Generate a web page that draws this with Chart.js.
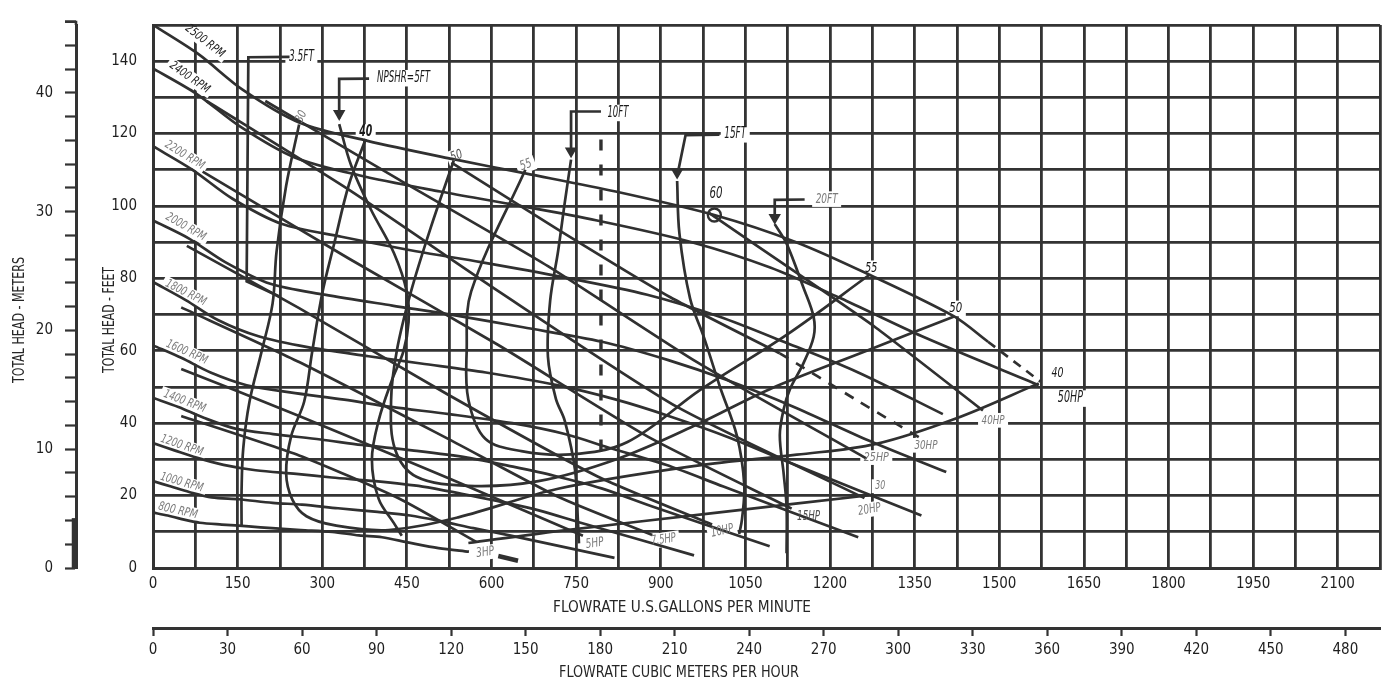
<!DOCTYPE html>
<html><head><meta charset="utf-8"><title>Pump performance curves</title>
<script src="https://cdn.jsdelivr.net/npm/chart.js@4.4.1/dist/chart.umd.min.js"></script>
<style>html,body{margin:0;padding:0;background:#fff;overflow:hidden}canvas{display:block}</style>
</head><body>
<canvas id="chart" width="1389" height="685"></canvas>
<script>
// ---------- tick labels ----------
const GPM_TICKS = [0,150,300,450,600,750,900,1050,1200,1350,1500,1650,1800,1950,2100];
const M3H_TICKS = [0,30,60,90,120,150,180,210,240,270,300,330,360,390,420,450,480];
const FEET_TICKS = [0,20,40,60,80,100,120,140];
const METER_TICKS = [0,10,20,30,40];

// ---------- speed curves  [US GPM, head ft] ----------
const RPM_2500 = [[0,150],[80,142],[160,132],[260,123],[380,118],[530,113],[660,109],[820,104],[995,97.5],[1140,90],[1270,81],[1420,69.5],[1480,62.5]];
const RPM_2500_TAIL = [[1480,62.5],[1573,51.5]];
const RPM_2400 = [[0,138],[77,131],[154,122],[250,113.5],[365,108.5],[509,104],[634,100.5],[787,96],[955,90],[1094,83],[1219,74.5],[1363,64],[1570,50.5]];
const RPM_2200 = [[0,116.5],[70,110],[141,102],[229,95],[334,91.5],[466,87.5],[581,84.5],[722,80.5],[876,75.5],[1003,69.5],[1118,62.5],[1250,54],[1400,42.5]];
const RPM_2000 = [[0,96],[64,91],[128,84.5],[208,78.5],[304,75.5],[424,72.5],[528,70],[656,66.5],[796,62.5],[912,57.5],[1016,52],[1136,44.5],[1264,35.5],[1406,26.5]];
const RPM_1800 = [[0,79],[58,74],[115,68.5],[187,64],[274,61],[382,58.5],[475,56.5],[590,54],[716,50.5],[821,46.5],[914,42],[1022,36],[1138,28.5],[1362,14.5]];
const RPM_1600 = [[0,61.5],[51,58],[102,54],[166,50.5],[243,48.5],[339,46.5],[422,44.5],[525,42.5],[637,40],[730,37],[813,33],[909,28.5],[1011,22.5],[1250,8.5]];
const RPM_1400 = [[0,47],[45,44.5],[90,41.5],[146,38.5],[213,37],[297,35.5],[370,34],[459,32.5],[557,30.5],[638,28],[711,25.5],[795,22],[885,17],[1093,6]];
const RPM_1200 = [[0,34.5],[38,32.5],[77,30.5],[125,28.5],[182,27],[254,26],[317,25],[394,24],[478,22.5],[547,20.5],[610,18.5],[682,16],[758,12.5],[959,3.5]];
const RPM_1000 = [[0,24],[32,22.5],[64,21],[104,19.5],[152,19],[212,18],[264,17.5],[328,16.5],[398,15.5],[456,14.5],[508,13],[568,11],[632,9],[818,2.8]];
const RPM_800  = [[0,15.3],[26,14.5],[51,13.5],[83,12.5],[122,12],[170,11.5],[211,11],[262,10.5],[318,10],[365,9],[406,8.5],[454,7],[506,5.5],[560,4.5]];

// ---------- horsepower lines ----------
const HP_40 = [[986,98],[1141,81.5],[1282,66.3],[1471,43.5]];
const HP_30 = [[529,112],[718,93.5],[917,74.8],[1111,59.3]];
const HP_30_TAIL = [[1111,59.3],[1247,46.4],[1362,35.7]];
const HP_25 = [[199,129],[436,107.3],[700,83.4],[965,56.8],[1265,30.2]];
const HP_20 = [[95,129],[347,104.5],[612,76.5],[929,44.5],[1261,19.3]];
const HP_15 = [[88,109.5],[347,85.5],[612,61.6],[877,36.3],[1132,16.4]];
const HP_10 = [[60,89],[259,71.8],[524,47.8],[788,25.3],[991,12]];
const HP_7_5 = [[50,72],[259,56.9],[524,35.6],[718,19.7],[885,9.1]];
const HP_5 = [[50,55],[259,42],[524,24.8],[762,8.9]];
const HP_3 = [[50,42],[259,31.1],[436,19.2],[573,7.2]];
const HP_3_TAIL = [[612,3.3],[647,2]];

// ---------- efficiency contours (%) ----------
const EFF_30 = [[259,122.5],[236,105.6],[219,87.4],[212,73.1],[192,59.5],[171,45.9],[160,33.1],[157,21.4],[157,11.4]];
const EFF_30_RIGHT = [[559,6.9],[718,10.2],[1000,15.3],[1270,20.1]];
const EFF_40 = [[377,118.5],[347,105.8],[321,89.5],[300,75.9],[282,59.6],[268,46],[245,36.5],[236,26.2],[247,18.9],[272,14.3],[325,11.7],[418,10.5],[541,14],[718,21.9],[965,28.3],[1141,31.3],[1282,34.3],[1423,41.3],[1570,51]];
const EFF_50 = [[533,112.5],[492,93.9],[457,76.2],[432,59.9],[422,46.3],[429,32.8],[467,25.2],[559,22.7],[683,24],[824,30.2],[965,39.7],[1093,49.4],[1265,60],[1420,69.5]];
const EFF_55 = [[660,110],[564,76.4],[556,60.1],[559,46.5],[589,35.7],[653,32.3],[741,31.4],[841,34.8],[970,49.2],[1123,64.4],[1270,81]];
const EFF_60 = [[995,97.5]];

// ---------- NPSHR curves (ft) ----------
const NPSH_3_5_LEADER = [[242,141.2],[169,141.1],[166,79.2],[224,75]];
const NPSH_5_LEADER = [[383,135.2],[330,135.1],[330,124.2]];
const NPSH_5 = [[330,122.6],[351,111.3],[386,99.1],[427,87],[450,76.2],[453,68],[444,59.9],[423,51.7],[400,40.8],[388,30],[400,19.1],[427,12.4],[441,8.9]];
const NPSH_10_LEADER = [[794,126.1],[741,126.1],[741,114.1]];
const NPSH_10 = [[741,112.8],[730,101.1],[718,87.5],[704,73.9],[700,58.4],[714,46.8],[730,40.6],[748,27.1],[753,13.5],[755,6.8]];
const NPSH_15_LEADER = [[1004,119.7],[944,119.6],[929,108.2]];
const NPSH_15 = [[929,106.9],[933,92.5],[952,74.4],[977,63.5],[1005,50],[1035,36.5],[1048,23],[1044,13.5],[1039,9.4]];
const NPSH_20_LEADER = [[1155,101.8],[1102,101.7],[1102,95.8]];
const NPSH_20 = [[1102,95],[1123,89.6],[1153,77.4],[1171,69.3],[1171,63.9],[1153,56.6],[1129,49.4],[1118,44],[1111,36.7],[1118,25.8],[1123,16.9],[1123,4.1]];
const NPSH_ARROWS = [[330,125.5],[741,115.2],[929,109.3],[1102,96.8]];
const LIMIT_LINE = [[794,118.4],[794,30.7]];

// ---------- styling / layout ----------
const FONT = "'Liberation Sans Narrow','DejaVu Sans Condensed','Roboto Condensed','Arial Narrow',sans-serif";
const INK = '#303030', GRID = '#333333', DARK = '#1a1a1a', GRAY = '#7a7a7a', MID = '#505050';
const GPM_PER_M3H = 4.402868;
const X_MAX = 2175, Y_MAX = 150, M_MAX = 150 * 0.3048;

function pts(a){ return a.map(p => ({x:p[0], y:p[1]})); }
function line(a, o){ return Object.assign({data:pts(a), showLine:true, borderColor:INK, borderWidth:2.7, pointRadius:0, pointHoverRadius:0, tension:0.3, fill:false}, o||{}); }

const datasets = [
  line(RPM_2500), line(RPM_2500_TAIL,{borderDash:[9,7],tension:0}),
  line(RPM_2400), line(RPM_2200), line(RPM_2000), line(RPM_1800), line(RPM_1600),
  line(RPM_1400), line(RPM_1200), line(RPM_1000), line(RPM_800),
  line(HP_40,{tension:0.2}), line(HP_30,{tension:0.2}), line(HP_30_TAIL,{borderDash:[10,9],tension:0.2}),
  line(HP_25,{tension:0.2}), line(HP_20,{tension:0.2}), line(HP_15,{tension:0.2}), line(HP_10,{tension:0.2}),
  line(HP_7_5,{tension:0.2}), line(HP_5,{tension:0.2}), line(HP_3,{tension:0.2}), line(HP_3_TAIL,{borderWidth:4.5,tension:0}),
  line(EFF_30,{tension:0.35}), line(EFF_30_RIGHT,{tension:0.3}), line(EFF_40,{tension:0.35}),
  line(EFF_50,{tension:0.35}), line(EFF_55,{tension:0.35}),
  line(EFF_60,{showLine:false, pointRadius:6.5, pointStyle:'circle', pointBorderWidth:2.4, pointBorderColor:INK, pointBackgroundColor:'rgba(255,255,255,0)'}),
  line(NPSH_3_5_LEADER,{tension:0}), line(NPSH_5_LEADER,{tension:0}), line(NPSH_5,{tension:0.35}),
  line(NPSH_10_LEADER,{tension:0}), line(NPSH_10,{tension:0.35}),
  line(NPSH_15_LEADER,{tension:0}), line(NPSH_15,{tension:0.35}),
  line(NPSH_20_LEADER,{tension:0}), line(NPSH_20,{tension:0.35}),
  line(NPSH_ARROWS,{showLine:false, pointRadius:4.5, pointStyle:'triangle', pointRotation:180, pointBackgroundColor:INK, pointBorderColor:INK}),
  line(LIMIT_LINE,{borderDash:[11,14], borderWidth:3.4, tension:0})
];

// text annotations anchored in data units (GPM, ft)
const ANN = [
  {t:'2500 RPM', q:92, h:145.5, a:38, s:12, w:46, c:DARK},
  {t:'2400 RPM', q:65, h:135.5, a:35, s:12, w:46, c:DARK},
  {t:'2200 RPM', q:56, h:114,   a:32, s:12, w:44, c:GRAY},
  {t:'2000 RPM', q:58, h:94.2,  a:30, s:12, w:44, c:GRAY},
  {t:'1800 RPM', q:58, h:76,    a:27, s:12, w:44, c:GRAY},
  {t:'1600 RPM', q:60, h:59.6,  a:24, s:12, w:44, c:GRAY},
  {t:'1400 RPM', q:56, h:46,    a:21, s:12, w:44, c:GRAY},
  {t:'1200 RPM', q:51, h:33.8,  a:19, s:12, w:44, c:GRAY},
  {t:'1000 RPM', q:51, h:23.6,  a:16, s:12, w:44, c:GRAY},
  {t:'800 RPM',  q:44, h:15.8,  a:13, s:12, w:40, c:GRAY},
  {t:'3.5FT', q:263, h:141, s:15, w:25, c:DARK},
  {t:'NPSHR=5FT', q:444, h:135.3, s:15, w:53, c:DARK},
  {t:'10FT', q:824, h:125.7, s:15, w:21, c:DARK},
  {t:'15FT', q:1032, h:119.8, s:15, w:22, c:DARK},
  {t:'20FT', q:1194, h:101.9, s:14, w:22, c:GRAY},
  {t:'30', q:263, h:124.7, a:-65, s:12, w:12, c:GRAY},
  {t:'40', q:377, h:120.3, s:15, w:13, c:DARK, b:true},
  {t:'50', q:538, h:113.8, a:-20, s:13, w:12, c:MID},
  {t:'55', q:661, h:111.3, a:-20, s:13, w:12, c:GRAY},
  {t:'60', q:998, h:103.2, s:15, w:13, c:DARK},
  {t:'55', q:1273, h:82.8, s:14, w:12, c:DARK},
  {t:'50', q:1423, h:71.7, s:14, w:13, c:DARK},
  {t:'40', q:1603, h:53.8, s:14, w:12, c:DARK},
  {t:'30', q:1289, h:22.6, s:12, w:10, c:GRAY},
  {t:'50HP', q:1626, h:46.8, s:15, w:25, c:DARK},
  {t:'40HP', q:1489, h:40.8, s:13, w:23, c:GRAY},
  {t:'30HP', q:1370, h:33.9, s:13, w:23, c:GRAY},
  {t:'25HP', q:1282, h:30.5, s:13, w:25, c:GRAY},
  {t:'20HP', q:1270, h:16.1, a:-10, s:13, w:23, c:GRAY},
  {t:'15HP', q:1162, h:14.2, s:14, w:23, c:MID},
  {t:'10HP', q:1009, h:10.2, a:-12, s:13, w:23, c:GRAY},
  {t:'7.5HP', q:905, h:7.8, a:-8, s:13, w:25, c:GRAY},
  {t:'5HP', q:783, h:6.8, a:-8, s:13, w:18, c:GRAY},
  {t:'3HP', q:589, h:4.3, a:-8, s:13, w:18, c:GRAY}
];

const TITLES = [
  {t:'TOTAL HEAD - METERS', x:20, y:320, a:-90, s:16, w:126, c:'#262626', it:false},
  {t:'TOTAL HEAD - FEET', x:110, y:320, a:-90, s:16, w:106, c:'#262626', it:false},
  {t:'FLOWRATE U.S.GALLONS PER MINUTE', x:682, y:608, s:16, w:258, c:'#262626', it:false},
  {t:'FLOWRATE CUBIC METERS PER HOUR', x:679, y:673, s:16, w:240, c:'#262626', it:false}
];

function drawText(ctx, a, px, py, boxOnly){
  ctx.save();
  ctx.font = (a.it === false ? '' : 'italic ') + (a.b ? 'bold ' : '') + a.s + 'px ' + FONT;
  const mw = ctx.measureText(a.t).width || 1;
  const sx = a.w ? a.w / mw : 1;
  ctx.translate(px, py);
  if (a.a) ctx.rotate(a.a * Math.PI / 180);
  if (boxOnly){
    ctx.fillStyle = '#fff';
    const bw = mw * sx + 7, bh = a.s * 0.9 + 3;
    ctx.fillRect(-bw/2, -bh/2, bw, bh);
  } else {
    ctx.scale(sx, 1);
    ctx.fillStyle = a.c; ctx.textAlign = 'center'; ctx.textBaseline = 'middle';
    ctx.fillText(a.t, 0, 0);
  }
  ctx.restore();
}

const annotationPlugin = {
  id: 'pumpAnnotations',
  beforeDatasetsDraw(chart){
    const {ctx, chartArea:ca, scales:{x, y}} = chart;
    ctx.save();
    ctx.beginPath(); ctx.rect(ca.left + 2, ca.top + 2, ca.right - ca.left - 4, ca.bottom - ca.top - 4); ctx.clip();
    ANN.forEach(a => drawText(ctx, a, x.getPixelForValue(a.q), y.getPixelForValue(a.h), true));
    ctx.restore();
  },
  afterDatasetsDraw(chart){
    const {ctx, scales:{x, y}} = chart;
    ANN.forEach(a => drawText(ctx, a, x.getPixelForValue(a.q), y.getPixelForValue(a.h), false));
  },
  afterDraw(chart){
    const {ctx} = chart;
    TITLES.forEach(t => drawText(ctx, t, t.x, t.y, false));
    const y2 = chart.scales.y2;
    const xr = y2.right;
    ctx.save();
    ctx.strokeStyle = GRID; ctx.lineWidth = 2.6;
    ctx.beginPath();
    ctx.moveTo(xr, y2.getPixelForValue(M_MAX)); ctx.lineTo(xr, y2.getPixelForValue(46) - 1);
    ctx.moveTo(xr - 11, y2.getPixelForValue(46)); ctx.lineTo(xr, y2.getPixelForValue(46));
    ctx.stroke();
    ctx.lineWidth = 4.5;
    ctx.beginPath(); ctx.moveTo(xr - 2, y2.getPixelForValue(0) + 1); ctx.lineTo(xr - 2, y2.getPixelForValue(4.2)); ctx.stroke();
    ctx.restore();
  }
};

const tickFont = {family: FONT, size: 15};
new Chart(document.getElementById('chart'), {
  type: 'scatter',
  data: {datasets},
  options: {
    responsive: false, animation: false, devicePixelRatio: 1, events: [],
    layout: {padding: {top: 15, right: 7, left: 0, bottom: 0}},
    plugins: {legend: {display: false}, tooltip: {enabled: false}},
    scales: {
      x: {
        type: 'linear', position: 'bottom', min: 0, max: X_MAX, weight: 0,
        ticks: {stepSize: 75, autoSkip: false, maxRotation: 0, padding: 7, color: '#1e1e1e', font: tickFont,
                callback: v => GPM_TICKS.includes(v) ? String(v) : ''},
        grid: {color: GRID, lineWidth: 2.8, drawTicks: false},
        border: {display: true, color: GRID, width: 3},
        afterFit: s => { s.height = 60; }
      },
      x2: {
        type: 'linear', position: 'bottom', min: 0, max: X_MAX / GPM_PER_M3H, weight: 1,
        ticks: {stepSize: 30, autoSkip: false, includeBounds: false, maxRotation: 0, padding: 5, color: '#1e1e1e', font: tickFont,
                callback: v => M3H_TICKS.includes(v) ? String(v) : ''},
        grid: {drawOnChartArea: false, drawTicks: true, tickLength: 8, tickWidth: 2.2, tickColor: GRID},
        border: {display: true, color: GRID, width: 3},
        afterFit: s => { s.height = 57; }
      },
      y: {
        type: 'linear', position: 'left', min: 0, max: Y_MAX, weight: 1,
        ticks: {stepSize: 10, autoSkip: false, padding: 16, color: '#1e1e1e', font: tickFont,
                callback: v => FEET_TICKS.includes(v) ? String(v) : ''},
        grid: {color: GRID, lineWidth: 2.8, drawTicks: false},
        border: {display: true, color: GRID, width: 3},
        afterFit: s => { s.width = 77; }
      },
      y2: {
        type: 'linear', position: 'left', min: 0, max: M_MAX, weight: 2,
        ticks: {stepSize: 2, autoSkip: false, includeBounds: false, padding: 12, color: '#1e1e1e', font: tickFont,
                callback: v => METER_TICKS.includes(v) ? String(v) : ''},
        grid: {drawOnChartArea: false, drawTicks: true, tickLength: 11, tickWidth: 2.2, tickColor: GRID},
        border: {display: true, color: GRID, width: 3},
        afterFit: s => { s.width = 76; }
      }
    }
  },
  plugins: [annotationPlugin]
});
</script>
</body></html>
